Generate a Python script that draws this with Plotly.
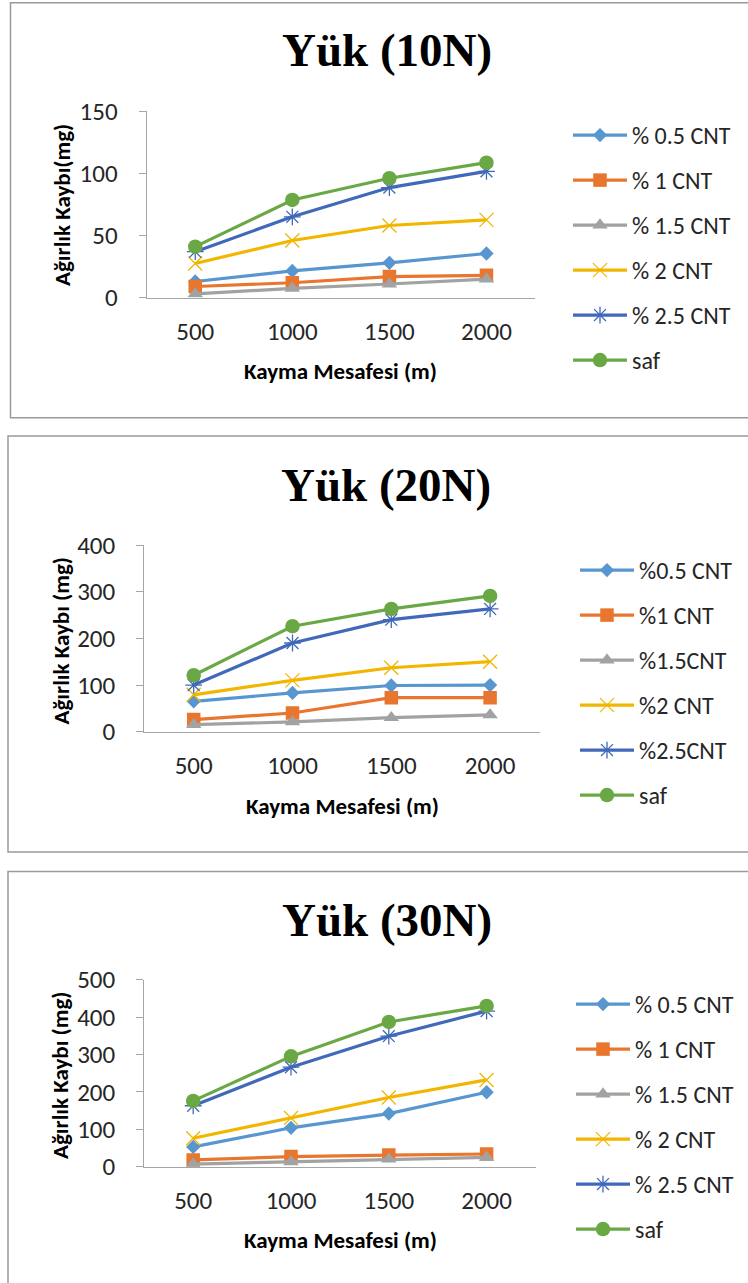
import plotly.graph_objects as go

W, H = 748, 1283

# Sliding distance categories (m)
distances = ["500", "1000", "1500", "2000"]

# Weight loss (mg) under 10 N load
w10_cnt05 = [13, 21.5, 28, 35.5]
w10_cnt1 = [9, 12, 17, 18]
w10_cnt15 = [3, 7.5, 11, 15]
w10_cnt2 = [27.5, 46, 58, 62.5]
w10_cnt25 = [37, 65, 88.5, 101.5]
w10_saf = [41, 78.5, 96, 108.5]
names_10 = ["% 0.5 CNT", "% 1 CNT", "% 1.5 CNT", "% 2 CNT", "% 2.5 CNT", "saf"]

# Weight loss (mg) under 20 N load
w20_cnt05 = [65, 83, 99, 100]
w20_cnt1 = [26, 40, 73, 73]
w20_cnt15 = [15, 21, 30, 36]
w20_cnt2 = [79, 110, 137, 150]
w20_cnt25 = [100, 190, 240, 263]
w20_saf = [121, 226, 263, 291]
names_20 = ["%0.5 CNT", "%1 CNT", "%1.5CNT", "%2 CNT", "%2.5CNT", "saf"]

# Weight loss (mg) under 30 N load
w30_cnt05 = [53, 104, 142, 199]
w30_cnt1 = [18, 27, 31, 34]
w30_cnt15 = [7, 13, 20, 25]
w30_cnt2 = [76, 130, 185, 232]
w30_cnt25 = [163, 266, 349, 416]
w30_saf = [176, 295, 387, 430]
names_30 = ["% 0.5 CNT", "% 1 CNT", "% 1.5 CNT", "% 2 CNT", "% 2.5 CNT", "saf"]

titles = ["Yük (10N)", "Yük (20N)", "Yük (30N)"]
y_titles = ["Ağırlık Kaybı(mg)", "Ağırlık Kaybı (mg)", "Ağırlık Kaybı (mg)"]
x_title = "Kayma Mesafesi (m)"
y_max = [150, 400, 500]
y_step = [50, 100, 100]

colors = ["#5896D0", "#E8762F", "#A2A2A2", "#F2B600", "#4169BA", "#6AA845"]
symbols = ["diamond", "square", "triangle-up", "x-thin-open", "asterisk-open", "circle"]
msizes = [11, 13.5, 13.5, 14, 14, 14.5]

panels_data = [
    [w10_cnt05, w10_cnt1, w10_cnt15, w10_cnt2, w10_cnt25, w10_saf],
    [w20_cnt05, w20_cnt1, w20_cnt15, w20_cnt2, w20_cnt25, w20_saf],
    [w30_cnt05, w30_cnt1, w30_cnt15, w30_cnt2, w30_cnt25, w30_saf],
]
panels_names = [names_10, names_20, names_30]


def px(x):
    return x / W


def py(y):
    return 1 - y / H


# Layout geometry in pixels (left, right, top, bottom of plot area)
plot_boxes = [
    (146.7, 535.0, 111.0, 297.7),
    (144.3, 539.5, 545.0, 731.7),
    (144.3, 535.5, 979.7, 1166.7),
]
frame_boxes = [
    (10.5, 760, 2.7, 417.7),
    (8.0, 760, 436.0, 852.0),
    (8.0, 760, 871.5, 1295.0),
]
title_y = [50, 485, 919.5]
title_x = [386.5, 385.5, 386.5]
ytitle_pos = [(62, 205), (60, 641.5), (60, 1076)]
xtitle_pos = [(340, 371), (342, 806), (340, 1240)]
legend_pos = [(568, 113), (575, 548), (571, 982)]

LABEL_FONT = "Carlito, Calibri, Lato, sans-serif"

fig = go.Figure()
layout_updates = {}
annotations = []
shapes = []

for p in range(3):
    sfx = "" if p == 0 else str(p + 1)
    xa, ya = "x" + sfx, "y" + sfx
    leg = "legend" + sfx
    for s in range(6):
        marker = dict(symbol=symbols[s], size=msizes[s], color=colors[s])
        if symbols[s].endswith("-open"):
            marker["line"] = dict(color=colors[s], width=1.3)
        else:
            marker["line"] = dict(width=0)
        fig.add_trace(go.Scatter(
            x=distances, y=panels_data[p][s], name=panels_names[p][s],
            mode="lines+markers", line=dict(color=colors[s], width=3.2),
            marker=marker, xaxis=xa, yaxis=ya, legend=leg,
            legendgroup=f"p{p}s{s}",
        ))

    l, r, t, b = plot_boxes[p]
    layout_updates["xaxis" + sfx] = dict(
        domain=[px(l), px(r)], anchor=ya, type="category",
        range=[-0.5, 3.5], showgrid=False, zeroline=False,
        showline=True, linecolor="#A6A6A6", linewidth=1.2,
        ticks="", ticklabelstandoff=11, automargin=False,
        tickfont=dict(family=LABEL_FONT, size=25, color="#262626"),
    )
    layout_updates["yaxis" + sfx] = dict(
        domain=[py(b), py(t)], anchor=xa, range=[0, y_max[p]],
        dtick=y_step[p], tick0=0, showgrid=False, zeroline=False,
        showline=True, linecolor="#A6A6A6", linewidth=1.2,
        ticks="outside", ticklen=7, tickcolor="#A6A6A6", tickwidth=1.2,
        ticklabelstandoff=16, automargin=False,
        tickfont=dict(family=LABEL_FONT, size=25, color="#262626"),
    )
    lx, ly = legend_pos[p]
    layout_updates[leg] = dict(
        x=px(lx), y=py(ly), xanchor="left", yanchor="top",
        traceorder="grouped", tracegroupgap=10.8, itemwidth=54,
        font=dict(family=LABEL_FONT, size=24, color="#262626"),
        bgcolor="rgba(0,0,0,0)", borderwidth=0,
    )

    fl, fr, ft, fb = frame_boxes[p]
    shapes.append(dict(
        type="rect", xref="paper", yref="paper",
        x0=px(fl), x1=px(fr), y0=py(fb), y1=py(ft),
        line=dict(color="#9A9A9A", width=1.5), fillcolor="rgba(0,0,0,0)",
        layer="below",
    ))

    annotations.append(dict(
        text=f"<b>{titles[p]}</b>", x=px(title_x[p]), y=py(title_y[p]),
        xref="paper", yref="paper", xanchor="center", yanchor="middle",
        showarrow=False,
        font=dict(family="Liberation Serif, Times New Roman, serif", size=47, color="#000000"),
    ))
    yx, yy = ytitle_pos[p]
    annotations.append(dict(
        text=f"<b>{y_titles[p]}</b>", x=px(yx), y=py(yy), textangle=-90,
        xref="paper", yref="paper", xanchor="center", yanchor="middle",
        showarrow=False,
        font=dict(family=LABEL_FONT, size=23, color="#000000"),
    ))
    xx, xy = xtitle_pos[p]
    annotations.append(dict(
        text=f"<b>{x_title}</b>", x=px(xx), y=py(xy),
        xref="paper", yref="paper", xanchor="center", yanchor="middle",
        showarrow=False,
        font=dict(family=LABEL_FONT, size=23, color="#000000"),
    ))

fig.update_layout(
    width=W, height=H,
    margin=dict(l=0, r=0, t=0, b=0, autoexpand=False),
    paper_bgcolor="white", plot_bgcolor="rgba(0,0,0,0)",
    showlegend=True, annotations=annotations, shapes=shapes,
    **layout_updates,
)

fig.write_html("out.html")
